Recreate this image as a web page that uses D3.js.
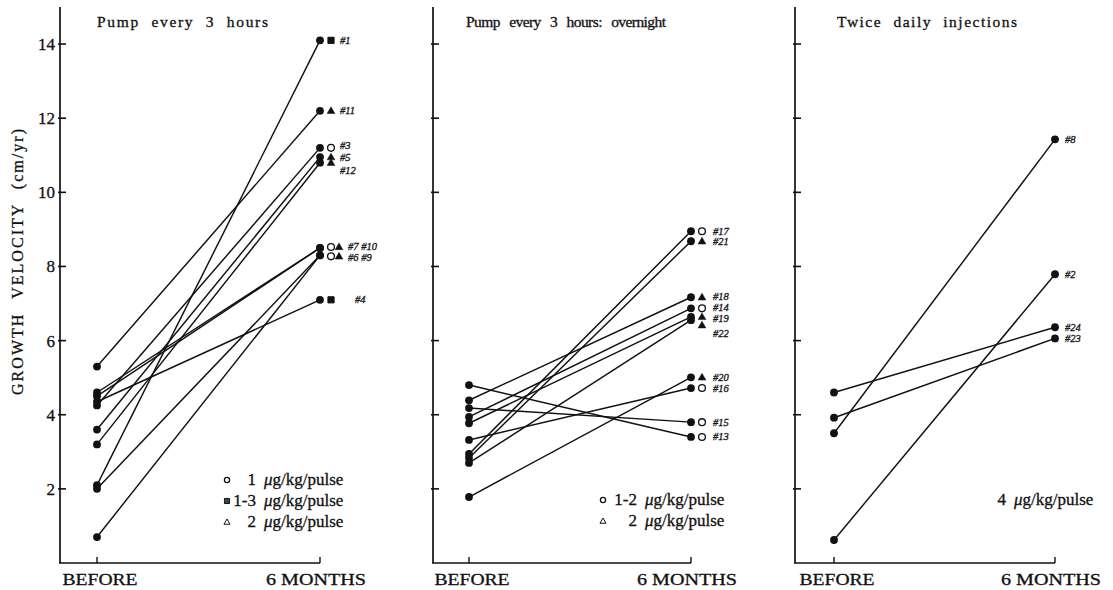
<!DOCTYPE html>
<html>
<head>
<meta charset="utf-8">
<script src="https://cdn.jsdelivr.net/npm/d3@7"></script>
<style>
  body { margin: 0; background: #fff; }
  text { font-family: "Liberation Serif", "Times New Roman", serif; fill: #111; stroke: #111; stroke-width: 0.3px; }
</style>
</head>
<body>
<svg id="chart" width="1113" height="590"></svg>
<script>
var phases = ["BEFORE", "6 MONTHS"];
var yTicks = [2, 4, 6, 8, 10, 12, 14];

// panel 1: pump every 3 hours
var pumpIds    = ["#1", "#11", "#3", "#5", "#12", "#7", "#10", "#6", "#9", "#4"];
var pumpBefore = [2.1, 5.3, 4.25, 3.6, 3.2, 4.6, 4.5, 2.0, 0.7, 4.35];
var pumpAfter  = [14.1, 12.2, 11.2, 10.95, 10.8, 8.5, 8.5, 8.3, 8.3, 7.1];
var pumpDose   = ["1-3", "2", "1", "2", "2", "1", "2", "1", "2", "1-3"];
var pumpDoses  = ["1", "1-3", "2"];

// panel 2: pump every 3 hours, overnight
var nightIds    = ["#17", "#21", "#18", "#14", "#19", "#22", "#20", "#16", "#15", "#13"];
var nightBefore = [2.94, 2.83, 4.39, 3.94, 3.77, 2.70, 1.78, 3.32, 4.18, 4.8];
var nightAfter  = [8.95, 8.68, 7.17, 6.87, 6.64, 6.55, 5.01, 4.72, 3.80, 3.40];
var nightDose   = ["1-2", "2", "2", "1-2", "2", "2", "2", "1-2", "1-2", "1-2"];
var nightDoses  = ["1-2", "2"];

// panel 3: twice daily injections
var injIds    = ["#8", "#2", "#24", "#23"];
var injBefore = [3.5, 0.62, 4.6, 3.92];
var injAfter  = [11.43, 7.79, 6.36, 6.06];
var injDoses  = ["4"];

var svg = d3.select("#chart");

var y = d3.scaleLinear().domain([0, 15]).range([563, 7]);

var symType = {"1": "circle", "1-2": "circle", "1-3": "square", "2": "triangle"};

function drawSym(g, type, x, yy, small) {
  if (type == "circle") {
    g.append("circle").attr("cx", x).attr("cy", yy).attr("r", small ? 2.6 : 3.4)
      .attr("fill", "none").attr("stroke", "#111").attr("stroke-width", 1.3);
  } else if (type == "square") {
    g.append("path").attr("transform", "translate(" + x + "," + yy + ")")
      .attr("d", d3.symbol().type(d3.symbolSquare).size(small ? 26 : 38)())
      .attr("fill", small ? "#444" : "#111").attr("stroke", "#111");
  } else {
    g.append("path").attr("transform", "translate(" + x + "," + (yy + 0.5) + ")")
      .attr("d", d3.symbol().type(d3.symbolTriangle).size(small ? 16 : 26)())
      .attr("fill", small ? "none" : "#111").attr("stroke", "#111").attr("stroke-width", small ? 1 : 0.5);
  }
}

function drawPanel(p) {
  var x = d3.scalePoint().domain(phases).range([p.x0, p.x1]);
  var g = svg.append("g");

  // axes
  g.append("line").attr("x1", p.left).attr("x2", p.left).attr("y1", y(15)).attr("y2", y(0))
    .attr("stroke", "#111").attr("stroke-width", 1.7);
  g.append("line").attr("x1", p.left - 1).attr("x2", p.x1).attr("y1", y(0)).attr("y2", y(0))
    .attr("stroke", "#111").attr("stroke-width", 1.7);
  yTicks.forEach(function(t) {
    g.append("line").attr("x1", p.left - 2).attr("x2", p.left + 6)
      .attr("y1", y(t)).attr("y2", y(t)).attr("stroke", "#111").attr("stroke-width", 1.6);
    if (p.tickLabels) {
      g.append("text").attr("x", p.left - 5).attr("y", y(t) + 6)
        .attr("text-anchor", "end").style("font-size", "17px").text(t);
    }
  });
  phases.forEach(function(ph, i) {
    g.append("line").attr("x1", x(ph)).attr("x2", x(ph)).attr("y1", y(0)).attr("y2", y(0) - 6)
      .attr("stroke", "#111").attr("stroke-width", 1.4);
    g.append("text").attr("x", x(ph) + (i == 0 ? 3 : -4)).attr("y", 585)
      .attr("text-anchor", "middle").style("font-size", "16px")
      .attr("textLength", i == 0 ? 75 : 100).attr("lengthAdjust", "spacingAndGlyphs")
      .text(ph);
  });

  // title
  g.append("text").attr("x", p.titleX).attr("y", 27).style("font-size", "15.5px")
    .style("word-spacing", "6px")
    .attr("textLength", p.titleW).attr("lengthAdjust", "spacing").text(p.title);

  // patient lines and dots
  p.before.forEach(function(b, i) {
    var a = p.after[i];
    g.append("line").attr("x1", x(phases[0])).attr("y1", y(b))
      .attr("x2", x(phases[1])).attr("y2", y(a))
      .attr("stroke", "#111").attr("stroke-width", 1.45);
    [[phases[0], b], [phases[1], a]].forEach(function(d) {
      g.append("circle").attr("cx", x(d[0])).attr("cy", y(d[1])).attr("r", 3.9).attr("fill", "#111");
    });
  });

  // markers next to the 6-month dots
  if (p.dose) {
    p.dose.forEach(function(d, i) {
      drawSym(g, symType[d], p.x1 + 11 + 8 * p.symCol[i], y(p.after[i]) + p.symDy[i], false);
    });
  }
  p.labels.forEach(function(l, i) {
    g.append("text").attr("x", p.x1 + p.labelDx[i]).attr("y", y(p.labelAt[i]) + 3.5)
      .style("font-size", "10.5px").style("font-style", "italic").text(l);
  });

  // dose legend
  p.legend.forEach(function(d, i) {
    var ly = p.legendY + i * 21;
    if (p.dose) drawSym(g, symType[d], p.legendSymX, ly - 5, true);
    g.append("text").attr("x", p.legendNumX).attr("y", ly).attr("text-anchor", "end")
      .style("font-size", "17px").text(d);
    var t = g.append("text").attr("x", p.legendNumX + 8).attr("y", ly).style("font-size", "17px");
    t.append("tspan").style("font-style", "italic").text("\u03bc");
    t.append("tspan").text("g/kg/pulse");
  });
}

drawPanel({
  left: 60, x0: 97, x1: 320, tickLabels: true,
  title: "Pump every 3 hours", titleX: 97, titleW: 171,
  before: pumpBefore, after: pumpAfter, dose: pumpDose,
  symCol: [0, 0, 0, 0, 0, 0, 1, 0, 1, 0],
  symDy: [0, 0, 0, 0, 0, -1, -1, 1, 1, 0],
  labels: ["#1", "#11", "#3", "#5", "#12", "#7 #10", "#6 #9", "#4"],
  labelAt: [14.1, 12.2, 11.27, 10.93, 10.58, 8.55, 8.25, 7.1],
  labelDx: [20, 20, 20, 20, 20, 28, 28, 35],
  legend: pumpDoses, legendY: 485, legendSymX: 227, legendNumX: 256
});

drawPanel({
  left: 433, x0: 469, x1: 691, tickLabels: false,
  title: "Pump every 3 hours: overnight", titleX: 466, titleW: 200,
  before: nightBefore, after: nightAfter, dose: nightDose,
  symCol: [0, 0, 0, 0, 0, 0, 0, 0, 0, 0],
  symDy: [0, 0, 0, 0, 0, 5, 0, 0, 0, 0],
  labels: nightIds,
  labelAt: [8.95, 8.68, 7.2, 6.9, 6.6, 6.2, 5.01, 4.72, 3.80, 3.40],
  labelDx: [22, 22, 22, 22, 22, 22, 22, 22, 22, 22],
  legend: nightDoses, legendY: 505, legendSymX: 603, legendNumX: 637
});

drawPanel({
  left: 795, x0: 834, x1: 1055, tickLabels: false,
  title: "Twice daily injections", titleX: 837, titleW: 180,
  before: injBefore, after: injAfter, dose: null,
  labels: injIds,
  labelAt: injAfter,
  labelDx: [10, 10, 10, 10],
  legend: injDoses, legendY: 505, legendSymX: 0, legendNumX: 1006
});

// shared y axis title
svg.append("text")
  .attr("transform", "translate(23,262) rotate(-90)")
  .attr("text-anchor", "middle")
  .style("font-size", "16px")
  .style("word-spacing", "8px")
  .attr("textLength", 266).attr("lengthAdjust", "spacing")
  .text("GROWTH VELOCITY (cm/yr)");
</script>
</body>
</html>
